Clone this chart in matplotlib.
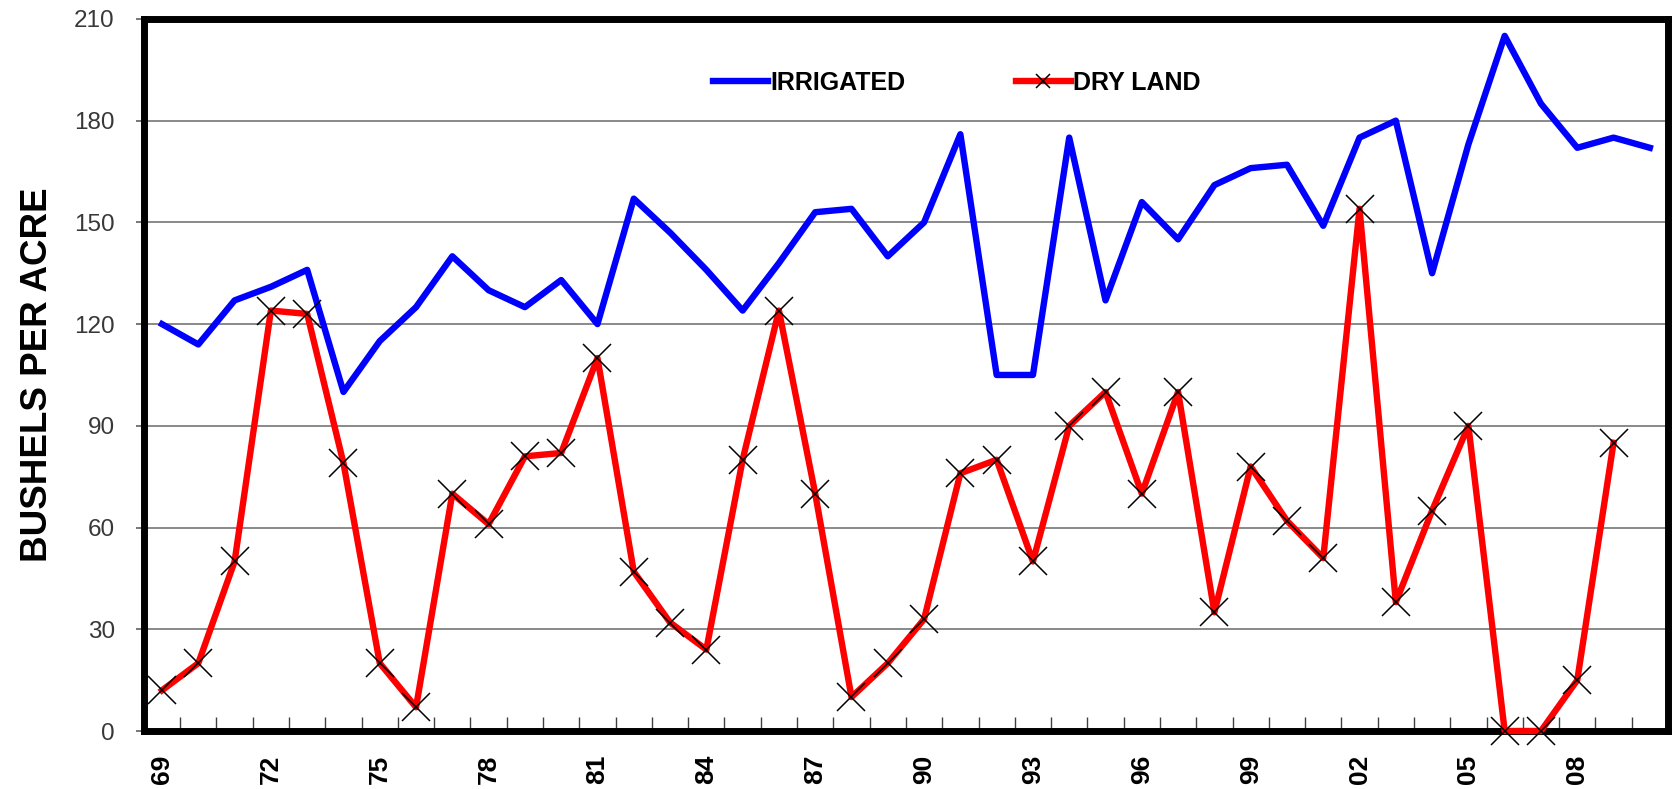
import numpy as np
import matplotlib
matplotlib.use("Agg")
import matplotlib.pyplot as plt
from matplotlib.ticker import FixedLocator

# crop years 1969-2010
years = list(range(1969, 2011))
irrigated = [120, 114, 127, 131, 136, 100, 115, 125, 140, 130,
             125, 133, 120, 157, 147, 136, 124, 138, 153, 154,
             140, 150, 176, 105, 105, 175, 127, 156, 145, 161,
             166, 167, 149, 175, 180, 135, 173, 205, 185, 172,
             175, 172]
# dry land series stops at 2009
dry_land = [12, 20, 50, 124, 123, 79, 20, 7, 70, 61,
            81, 82, 110, 47, 32, 24, 80, 124, 70, 10,
            20, 33, 76, 80, 50, 90, 100, 70, 100, 35,
            78, 62, 51, 154, 38, 65, 90, 0, 0, 15,
            85]
y_ticks = [0, 30, 60, 90, 120, 150, 180, 210]
label_years = list(range(1969, 2009, 3))

plt.rcParams['font.family'] = ['Liberation Sans', 'DejaVu Sans']

fig = plt.figure(figsize=(16.73, 7.89), dpi=100)
ax = fig.add_axes([0.086, 0.0735, 0.911, 0.9025])

x = np.arange(len(years))
ax.plot(x, irrigated, color="#0000ff", linewidth=4.6, label="IRRIGATED", zorder=3)
ax.plot(x[:len(dry_land)], dry_land, color="#ff0000", linewidth=4.6,
        marker="x", markersize=20, markeredgecolor="black", markeredgewidth=1.1,
        label="DRY LAND", zorder=4, clip_on=False)

ax.set_xlim(-0.5, len(years) - 0.5)
ax.set_ylim(0, 210)
ax.set_yticks(y_ticks)
ax.set_yticklabels([str(v) for v in y_ticks], fontsize=17.5, color="#383838")
ax.tick_params(axis="y", direction="out", length=6, width=1.2, color="#606060", pad=15)

lab_pos = [years.index(y) for y in label_years]
ax.set_xticks(lab_pos)
ax.set_xticklabels([f"{y % 100:02d}" for y in label_years], rotation=90,
                   fontsize=19, fontweight="bold")
ax.tick_params(axis="x", which="major", length=0, pad=17)
ax.xaxis.set_minor_locator(FixedLocator(np.arange(-0.5, len(years), 1.0)))
ax.tick_params(axis="x", which="minor", direction="in", length=10, width=1.0, color="#404040")

ax.yaxis.grid(True, color="#808080", linewidth=1.3)
ax.set_axisbelow(True)
for s in ax.spines.values():
    s.set_linewidth(5)
    s.set_color("black")

ax.set_ylabel("BUSHELS PER ACRE", fontsize=26.5, fontweight="bold", labelpad=14)

fig.legend(loc="center", bbox_to_anchor=(0.572, 0.895), ncol=2, frameon=False,
           prop={"size": 18, "weight": "bold"}, handlelength=2.2, handletextpad=0.1,
           columnspacing=4.4, markerscale=0.5)

fig.savefig("out.png", dpi=100)
